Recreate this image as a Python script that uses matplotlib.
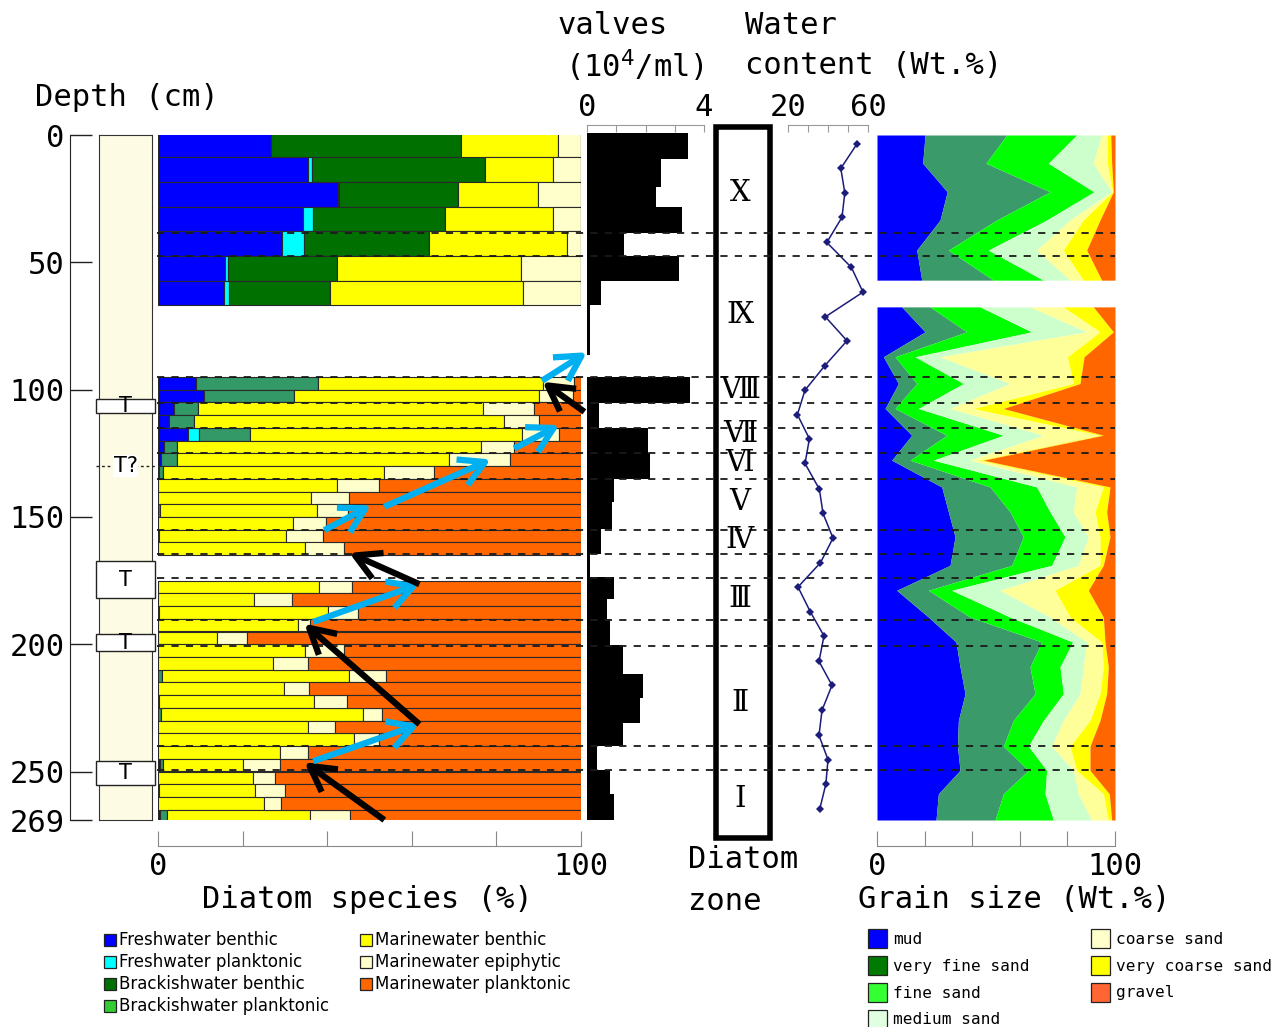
import numpy as np
import matplotlib
matplotlib.use("Agg")
import matplotlib.pyplot as plt
from matplotlib.patches import Rectangle

# ---------------- data ----------------
# diatom samples: top depth of each sample (cm) per core section
upper_tops = [-1.0, 8.7, 18.4, 28.1, 37.8, 47.5, 57.2]
middle_tops = [95, 100, 105, 110, 115, 120, 125, 130, 135, 140, 145, 150, 155, 160]
lower_tops = [175, 180, 185, 190, 195, 200, 205, 210, 215, 220, 225, 230, 235,
              240, 245, 250, 255, 260, 265]

fresh_benthic = [26.7, 35.5, 42.5, 34.2, 29.3, 15.8, 15.7,
                 9.0, 10.9, 3.7, 2.7, 7.0, 1.5, 0.7, 0.3, 0, 0, 0, 0, 0.3, 0,
                 0, 0, 0.3, 0, 0, 0, 0, 0, 0, 0.3, 0, 0, 0, 0, 0.4, 0, 0.3, 0, 0.4]
fresh_plank = [0, 0.9, 0.4, 2.5, 5.3, 0.7, 1.1,
               0, 0, 0, 0, 2.8, 0, 0, 0, 0, 0, 0, 0, 0, 0,
               0, 0, 0, 0, 0, 0, 0, 0, 0, 0, 0, 0, 0, 0, 0, 0, 0, 0, 0]
brack_benthic = [44.9, 40.9, 28.1, 31.1, 29.4, 25.8, 23.9,
                 28.8, 21.3, 5.7, 5.9, 11.9, 3.0, 3.8, 1.0, 0, 0, 0.5, 0, 0, 0,
                 0, 0, 0, 0, 0, 0, 0, 0.9, 0, 0, 0.8, 0, 0, 0, 0.7, 0, 0, 0, 1.7]
brack_plank = [0] * 40
marine_benthic = [22.9, 16.0, 18.8, 25.5, 32.6, 43.5, 45.5,
                  53.1, 57.9, 67.4, 73.1, 64.3, 71.9, 64.4, 52.2, 42.3, 36.2, 37.1, 31.8, 30.0, 34.8,
                  38.0, 22.6, 39.8, 33.0, 13.9, 34.8, 27.1, 44.3, 29.9, 36.6, 47.7, 35.4, 46.4,
                  28.9, 18.9, 22.4, 22.6, 25.0, 33.9]
marine_epiphytic = [5.5, 6.7, 10.2, 6.7, 3.4, 14.2, 13.8,
                    7.5, 7.9, 12.2, 8.4, 8.9, 7.7, 14.4, 11.8, 9.9, 9.0, 7.4, 7.9, 8.6, 9.2,
                    7.9, 9.0, 7.1, 3.0, 7.1, 9.1, 8.3, 8.7, 5.7, 7.7, 4.5, 6.5, 5.9, 6.6, 8.8,
                    5.3, 7.1, 4.1, 9.5]
marine_plank = [0, 0, 0, 0, 0, 0, 0,
                1.6, 2.0, 11.0, 9.9, 5.1, 15.9, 16.7, 34.7, 47.8, 54.8, 55.0, 60.3, 61.1, 56.0,
                54.1, 68.4, 52.8, 64.0, 79.0, 56.1, 64.6, 46.1, 64.4, 55.4, 47.0, 58.1, 47.7,
                64.5, 71.2, 72.3, 70.0, 70.9, 54.5]

diatom_labels = ["Freshwater benthic", "Freshwater planktonic", "Brackishwater benthic",
                 "Brackishwater planktonic", "Marinewater benthic", "Marinewater epiphytic",
                 "Marinewater planktonic"]

# valve concentration (10^4 valves / ml) over depth intervals
valve_top = [-0.7, 9.5, 20.4, 28.4, 38.4, 47.5, 57.2, 66.8, 95.0, 105.4, 115.1, 124.9, 135.2,
             144.1, 154.8, 164.6, 173.7, 182.4, 190.2, 200.4, 211.5, 220.9, 230.9, 240.1,
             249.5, 258.7]
valve_bottom = [9.5, 20.4, 28.4, 38.4, 47.5, 57.2, 66.8, 86.4, 105.4, 115.1, 124.9, 135.2,
                144.1, 154.8, 164.6, 173.7, 182.4, 190.2, 200.4, 211.5, 220.9, 230.9, 240.1,
                249.5, 258.7, 269.0]
valves = [3.47, 2.54, 2.37, 3.24, 1.25, 3.13, 0.48, 0.09, 3.52, 0.40, 2.10, 2.16, 0.91, 0.85,
          0.48, 0.10, 0.94, 0.68, 0.80, 1.23, 1.93, 1.80, 1.23, 0.34, 0.77, 0.94]

# water content (wt.%)
wc_depth = [3.5, 13.1, 22.7, 32.3, 42.2, 52.0, 61.7, 71.4, 80.8, 90.6, 100.2, 109.8, 119.3,
            129.0, 139.1, 148.6, 158.3, 168.0, 177.5, 187.3, 196.7, 206.7, 216.1, 225.9,
            235.8, 245.3, 255.0, 264.6]
water = [54.5, 46.4, 48.4, 47.0, 39.4, 51.7, 57.5, 38.7, 49.5, 38.4, 28.5, 24.7, 30.7, 28.5,
         35.7, 37.5, 42.5, 36.2, 25.0, 31.2, 38.0, 35.5, 42.0, 37.0, 35.5, 40.0, 38.9, 35.9]

# grain size (wt.%), upper and lower sections
grain_labels = ["mud", "very fine sand", "fine sand", "medium sand", "coarse sand",
                "very coarse sand", "gravel"]
gs_up_depth = [0, 11.1, 22.3, 33.4, 45.2, 57.0]
gs_up = [
    [20.2, 19.2, 29.5, 26.5, 16.7, 18.8],   # mud
    [34.3, 26.6, 43.2, 23.8, 13.3, 30.1],   # very fine sand
    [29.4, 26.2, 18.5, 21.0, 16.8, 21.0],   # fine sand
    [10.5, 18.9, 7.4, 9.8, 20.3, 11.2],     # medium sand
    [2.4, 5.9, 0.4, 5.6, 11.2, 5.6],        # coarse sand
    [1.4, 1.8, 0.3, 7.0, 9.8, 7.7],         # very coarse sand
    [1.8, 1.4, 0.7, 6.3, 11.9, 5.6],        # gravel
]
gs_lo_depth = [67.5, 77.3, 87.1, 97.6, 107.4, 117.9, 127.7, 138.2, 148.0, 157.8, 169.0, 178.8,
               189.3, 199.1, 208.9, 219.4, 229.9, 240.0, 249.5, 258.7, 269.0]
gs_lo = [
    [10.4, 20.2, 2.7, 9.0, 3.4, 14.6, 6.2, 27.2, 30.0, 32.8, 30.7, 8.3, 21.6, 33.2, 34.9, 37.0,
     34.2, 33.8, 34.9, 25.8, 24.8],
    [11.9, 17.5, 4.9, 7.7, 4.2, 14.7, 7.7, 20.3, 25.9, 28.7, 25.9, 13.3, 17.5, 36.0, 29.4, 29.4,
     23.1, 19.3, 28.7, 27.3, 24.8],
    [21.0, 27.3, 8.4, 19.6, 9.8, 23.8, 9.8, 19.6, 16.8, 17.5, 16.8, 9.8, 16.8, 13.0, 12.6, 11.9,
     12.6, 10.5, 7.7, 17.5, 24.5],
    [21.0, 23.1, 10.5, 19.6, 13.3, 16.8, 15.3, 16.8, 9.8, 9.8, 11.2, 20.3, 16.8, 5.9, 9.8, 7.0,
     8.4, 9.8, 11.2, 14.0, 16.1],
    [14.0, 5.6, 53.5, 26.6, 9.8, 23.8, 4.0, 11.2, 9.1, 4.9, 9.1, 23.1, 8.4, 6.3, 8.4, 8.4,
     11.2, 7.7, 1.4, 10.5, 7.0],
    [12.6, 5.6, 7.0, 2.8, 12.6, 1.4, 1.7, 2.8, 4.9, 4.2, 1.4, 14.0, 14.0, 1.4, 2.1, 2.8, 4.2,
     8.4, 5.6, 2.5, 1.4],
    [9.1, 0.7, 13.0, 14.7, 46.9, 4.9, 55.3, 2.1, 3.5, 2.1, 4.9, 11.2, 4.9, 4.2, 2.8, 3.5, 6.3,
     10.5, 10.5, 2.4, 1.4],
]

# diatom zones
zone_bounds = [38.4, 47.5, 95.0, 105.4, 115.2, 125.0, 135.2, 155.0, 164.6, 173.8, 190.3,
               200.7, 240.0, 249.5]
zone_names = ["Ⅹ", "Ⅸ", "Ⅷ", "Ⅶ", "Ⅵ", "Ⅴ", "Ⅳ", "Ⅲ", "Ⅱ", "Ⅰ"]
zone_centers = [22.7, 70.7, 100.2, 117.5, 129.0, 144.0, 159.1, 182.4, 223.0, 260.6]

# tephra layers in the core log (top, bottom depth)
tephra = [(103.7, 109.2), (167.4, 181.9), (196.0, 202.8), (246.0, 255.4)]
tephra_uncertain = 130.0

depth_ticks = [0, 50, 100, 150, 200, 250, 269]

# ---------------- styling ----------------
W, H = 1280, 1027
fig = plt.figure(figsize=(W / 100, H / 100), dpi=100)
MONO = "DejaVu Sans Mono"
BIG = 22

DEPTH_MAX = 269.0
Y_TOP, Y_BOT = 135, 820
PX_PER_CM = (Y_BOT - Y_TOP) / DEPTH_MAX


def px_axes(x0, y0, x1, y1, z=1):
    ax = fig.add_axes([x0 / W, 1 - y1 / H, (x1 - x0) / W, (y1 - y0) / H], zorder=z)
    ax.patch.set_alpha(0)
    return ax


def depth_at(y):
    return (y - Y_TOP) / PX_PER_CM


def set_depth(ax, y0, y1):
    ax.set_ylim(depth_at(y1), depth_at(y0))


def no_frame(ax):
    for s in ax.spines.values():
        s.set_visible(False)


dia_colors = ["#0000ff", "#00ffff", "#007000", "#33cc33", "#ffff00", "#ffffcc", "#ff6600"]
brack_lower_color = "#339966"
grain_fill = ["#0000ff", "#3a9a6a", "#00ff00", "#ccffcc", "#ffff99", "#ffff00", "#ff6600"]
grain_legend = ["#0000ff", "#007a00", "#33ff33", "#e0ffe0", "#ffffcc", "#ffff00", "#ff6633"]

# ---------------- depth scale ----------------
ax_d = px_axes(70, Y_TOP, 92, Y_BOT)
set_depth(ax_d, Y_TOP, Y_BOT)
no_frame(ax_d)
ax_d.spines["left"].set_visible(True)
ax_d.spines["left"].set_color("#222")
ax_d.set_xticks([])
ax_d.set_yticks(depth_ticks)
ax_d.set_yticklabels([str(t) for t in depth_ticks], fontfamily=MONO, fontsize=BIG)
ax_d.tick_params(axis="y", direction="in", length=16, width=1, pad=4, color="#222")

# ---------------- core log ----------------
ax_l = px_axes(99, Y_TOP, 152, Y_BOT, z=2)
ax_l.patch.set_alpha(1)
ax_l.set_facecolor("#fdfbe4")
set_depth(ax_l, Y_TOP, Y_BOT)
ax_l.set_xlim(0, 1)
ax_l.set_xticks([])
ax_l.set_yticks([])
for s in ax_l.spines.values():
    s.set_color("#333")
for top, bot in tephra:
    ax_l.add_patch(Rectangle((-0.05, top), 1.1, bot - top, facecolor="white",
                             edgecolor="#222", lw=1.0, clip_on=False, zorder=3))
    ax_l.text(0.5, (top + bot) / 2, "T", ha="center", va="center", fontsize=15, zorder=4)
ax_l.plot([-0.05, 1.05], [tephra_uncertain] * 2, ls=(0, (2, 2)), color="#222", lw=1,
          clip_on=False, zorder=3)
ax_l.text(0.5, tephra_uncertain, "T?", ha="center", va="center", fontsize=15, zorder=4,
          bbox=dict(facecolor="white", edgecolor="none", pad=0.5))

# ---------------- diatom species ----------------
ax_b = px_axes(158, Y_TOP, 581, Y_BOT, z=2)
set_depth(ax_b, Y_TOP, Y_BOT)
ax_b.set_xlim(0, 100)
tops = np.array(upper_tops + middle_tops + lower_tops, dtype=float)
thick = np.array([9.7] * len(upper_tops) + [5.0] * len(middle_tops)
                 + [4.95] * len(lower_tops))
series = [fresh_benthic, fresh_plank, brack_benthic, brack_plank, marine_benthic,
          marine_epiphytic, marine_plank]
left = np.zeros(len(tops))
for i, vals in enumerate(series):
    vals = np.array(vals, dtype=float)
    cols = [dia_colors[i]] * len(tops)
    if i == 2:
        cols = [dia_colors[2]] * len(upper_tops) + [brack_lower_color] * (
            len(tops) - len(upper_tops))
    ax_b.barh(tops, vals, height=thick, left=left, align="edge", color=cols,
              edgecolor="#2a2a2a", linewidth=0.8)
    left += vals
no_frame(ax_b)
ax_b.spines["bottom"].set_visible(True)
ax_b.spines["bottom"].set_position(("outward", 19))
ax_b.spines["bottom"].set_color("#888")
ax_b.set_yticks([])
ax_b.set_xticks([0, 20, 40, 60, 80, 100])
ax_b.set_xticklabels(["0", "", "", "", "", "100"], fontfamily=MONO, fontsize=BIG)
ax_b.tick_params(axis="x", direction="in", length=11, color="#888", pad=4)

# ---------------- valves ----------------
ax_v = px_axes(587, 125, 704, Y_BOT, z=2)
set_depth(ax_v, 125, Y_BOT)
ax_v.set_xlim(0, 4)
vt = np.array(valve_top)
vb = np.array(valve_bottom)
ax_v.barh(vt, valves, height=vb - vt, left=0, align="edge", color="black", linewidth=0)
no_frame(ax_v)
ax_v.spines["top"].set_visible(True)
ax_v.spines["top"].set_color("#999")
ax_v.xaxis.tick_top()
ax_v.set_xticks([0, 1, 2, 3, 4])
ax_v.set_xticklabels(["0", "", "", "", "4"], fontfamily=MONO, fontsize=BIG)
ax_v.tick_params(axis="x", direction="in", length=5, color="#999", pad=2)
ax_v.set_yticks([])

# ---------------- water content ----------------
ax_w = px_axes(788, 125, 868, Y_BOT, z=2)
set_depth(ax_w, 125, Y_BOT)
ax_w.set_xlim(20, 60)
ax_w.plot(water, wc_depth, color="#1c1c7a", lw=1.1, marker="D", markersize=4,
          markerfacecolor="#1c1c7a", markeredgewidth=0, clip_on=False)
no_frame(ax_w)
ax_w.spines["top"].set_visible(True)
ax_w.spines["top"].set_color("#999")
ax_w.xaxis.tick_top()
ax_w.set_xticks([20, 30, 40, 50, 60])
ax_w.set_xticklabels(["20", "", "", "", "60"], fontfamily=MONO, fontsize=BIG)
ax_w.tick_params(axis="x", direction="in", length=5, color="#999", pad=2)
ax_w.set_yticks([])

# ---------------- grain size ----------------
ax_g = px_axes(877, Y_TOP, 1115, Y_BOT, z=2)
set_depth(ax_g, Y_TOP, Y_BOT)
ax_g.set_xlim(0, 100)
for dep, fr in ((gs_up_depth, gs_up), (gs_lo_depth, gs_lo)):
    cum = np.zeros(len(dep))
    for k, row in enumerate(fr):
        nxt = cum + np.array(row)
        if k == len(fr) - 1:
            nxt = np.full(len(dep), 100.0)
        ax_g.fill_betweenx(dep, cum, nxt, color=grain_fill[k], linewidth=0)
        cum = nxt
no_frame(ax_g)
ax_g.spines["bottom"].set_visible(True)
ax_g.spines["bottom"].set_position(("outward", 19))
ax_g.spines["bottom"].set_color("#888")
ax_g.set_yticks([])
ax_g.set_xticks([0, 20, 40, 60, 80, 100])
ax_g.set_xticklabels(["0", "", "", "", "", "100"], fontfamily=MONO, fontsize=BIG)
ax_g.tick_params(axis="x", direction="in", length=11, color="#888", pad=4)

# ---------------- zone column and zone boundaries ----------------
ax_z = px_axes(157, Y_TOP, 1115, Y_BOT, z=4)
set_depth(ax_z, Y_TOP, Y_BOT)
ax_z.set_xlim(157, 1115)
ax_z.axis("off")
ax_z.add_patch(Rectangle((716, depth_at(127)), 54, depth_at(838) - depth_at(127),
                         facecolor="white", edgecolor="black", lw=4, clip_on=False,
                         zorder=1))
ax_z.hlines(zone_bounds, 157, 1115, colors="#1a1a1a", linestyles=(0, (4, 4)), lw=1.3,
            zorder=3)
for name, c in zip(zone_names, zone_centers):
    ax_z.text(740, c, name, ha="center", va="center", fontsize=21,
              fontfamily=["DejaVu Serif", "Noto Sans CJK JP"], zorder=4)

# ---------------- trend arrows over the diatom diagram ----------------
ax_a = px_axes(158, Y_TOP, 581, Y_BOT, z=5)
set_depth(ax_a, Y_TOP, Y_BOT)
ax_a.set_xlim(0, 100)
ax_a.axis("off")
arrows = [
    (53.5, 269.0, 34.6, 246.3, "black"),
    (36.7, 245.9, 61.8, 231.4, "#00b0f0"),
    (61.8, 231.4, 34.6, 191.9, "black"),
    (36.7, 191.2, 61.8, 176.4, "#00b0f0"),
    (61.8, 176.4, 45.2, 164.1, "black"),
    (39.3, 155.2, 50.4, 145.4, "#00b0f0"),
    (53.5, 146.0, 78.7, 127.4, "#00b0f0"),
    (84.2, 123.1, 94.9, 113.9, "#00b0f0"),
    (100.8, 108.7, 90.9, 96.9, "black"),
    (90.8, 96.5, 101.4, 85.3, "#00b0f0"),
]
for x0, d0, x1, d1, c in arrows:
    ax_a.annotate("", xy=(x1, d1), xytext=(x0, d0), annotation_clip=False,
                  arrowprops=dict(arrowstyle="->,head_length=0.9,head_width=0.5", color=c,
                                  lw=4.5, shrinkA=0, shrinkB=0, mutation_scale=20,
                                  capstyle="butt"))

# ---------------- titles and legends ----------------
ax_t = fig.add_axes([0, 0, 1, 1], zorder=6)
ax_t.set_xlim(0, W)
ax_t.set_ylim(H, 0)
ax_t.axis("off")
tk = dict(fontfamily=MONO, fontsize=BIG, va="center")
ax_t.text(35, 97, "Depth (cm)", ha="left", **tk)
ax_t.text(558, 26, "valves", ha="left", **tk)
ax_t.text(565, 66, "(10$^4$/ml)", ha="left", **tk)
ax_t.text(745, 26, "Water", ha="left", **tk)
ax_t.text(745, 66, "content (Wt.%)", ha="left", **tk)
ax_t.text(367, 900, "Diatom species (%)", ha="center", **tk)
ax_t.text(688, 860, "Diatom", ha="left", **tk)
ax_t.text(688, 901, "zone", ha="left", **tk)
ax_t.text(858, 900, "Grain size (Wt.%)", ha="left", **tk)

for i, lab in enumerate(diatom_labels):
    col, row = (0, i) if i < 4 else (1, i - 4)
    x = 104 + col * 256
    y = 940 + row * 22
    ax_t.add_patch(Rectangle((x, y - 6), 12, 12, facecolor=dia_colors[i],
                             edgecolor="#222", lw=0.9))
    ax_t.text(x + 15, y, lab, ha="left", va="center", fontsize=12)

for i, lab in enumerate(grain_labels):
    col, row = (0, i) if i < 4 else (1, i - 4)
    x = 868 + col * 223
    y = 938 + row * 27
    ax_t.add_patch(Rectangle((x, y - 9), 19, 19, facecolor=grain_legend[i],
                             edgecolor="#222", lw=0.9))
    ax_t.text(x + 25, y + 1, lab, ha="left", va="center", fontsize=11.6, fontfamily=MONO)

fig.savefig("out.png", dpi=100)
